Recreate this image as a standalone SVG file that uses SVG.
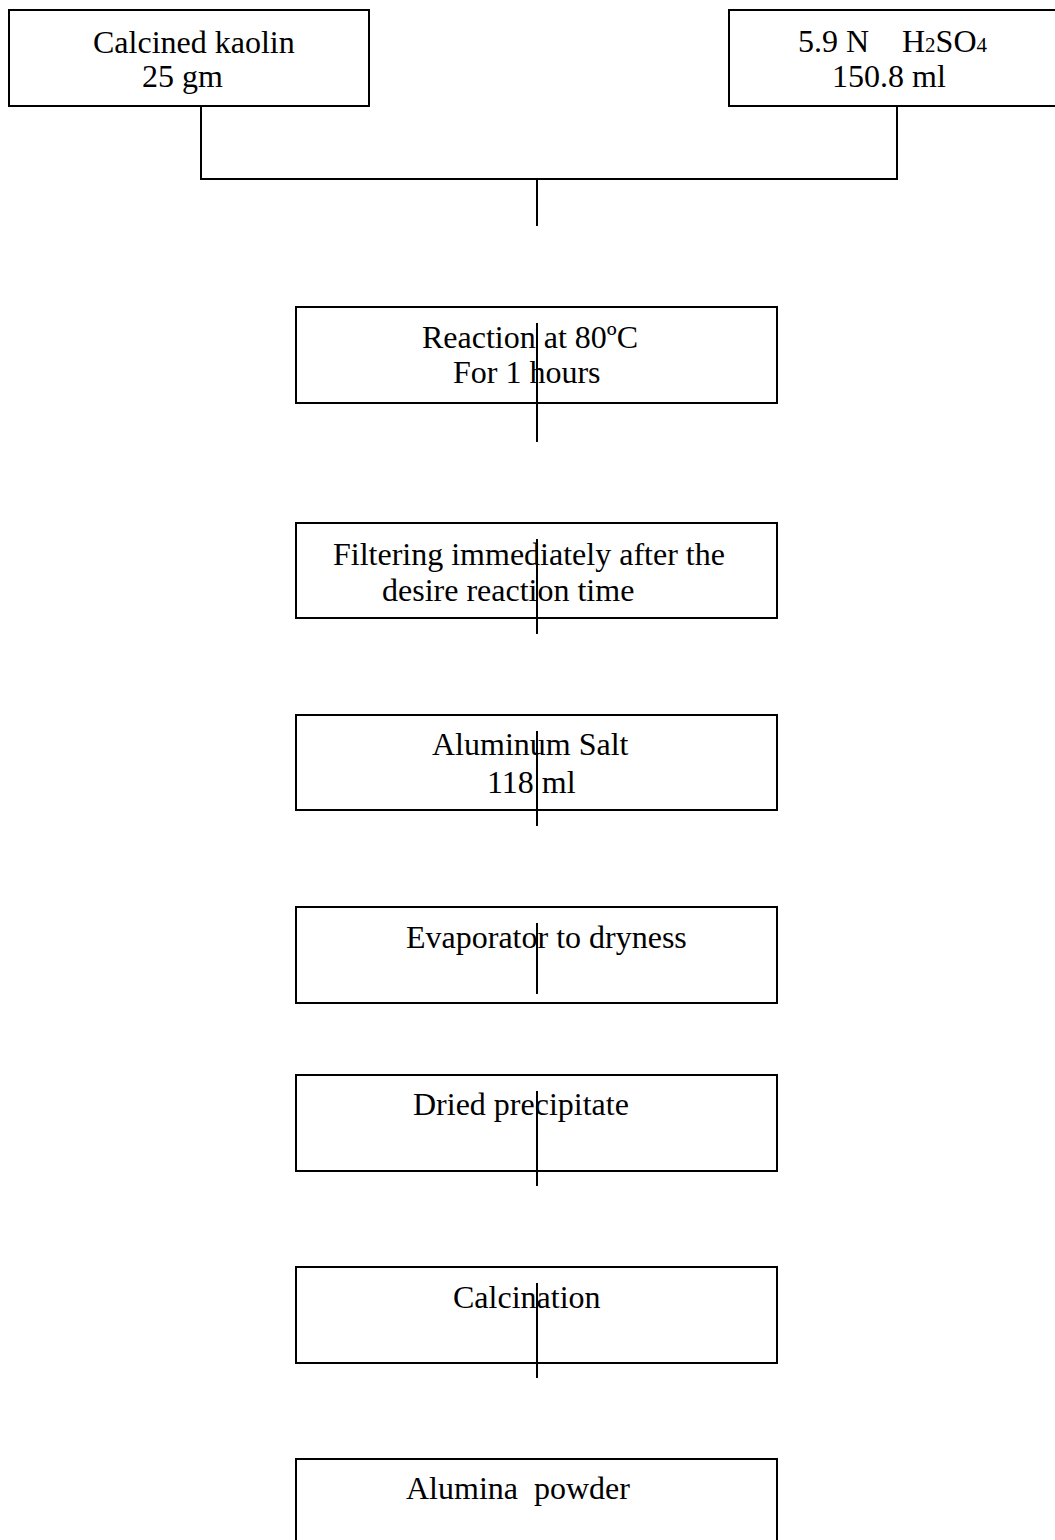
<svg xmlns="http://www.w3.org/2000/svg" width="1055" height="1540" viewBox="0 0 1055 1540">
<style>
.box{fill:#fff;stroke:#000;stroke-width:2}
line{stroke:#000;stroke-width:2}
text{font-family:"Liberation Serif","Times New Roman",serif;font-size:32px;fill:#000}
.sub{font-size:21px}
</style>
<rect width="1055" height="1540" fill="#fff"/>
<g id="connectors-top">
<line x1="201" y1="106" x2="201" y2="179"/>
<line x1="897" y1="106" x2="897" y2="179"/>
<line x1="200" y1="179" x2="898" y2="179"/>
<line x1="537" y1="179" x2="537" y2="226"/>
</g>
<g id="kaolin">
<rect class="box" x="9" y="10" width="360" height="96"/>
<text x="93" y="53">Calcined kaolin</text>
<text x="142" y="87">25 gm</text>
</g>
<g id="acid">
<rect class="box" x="729" y="10" width="340" height="96"/>
<text x="798" y="52">5.9 N</text>
<text x="902" y="52">H<tspan class="sub">2</tspan>SO<tspan class="sub">4</tspan></text>
<text x="832" y="87">150.8 ml</text>
</g>
<g id="reaction">
<rect class="box" x="296" y="307" width="481" height="96"/>
<text x="422" y="348">Reaction at 80ºC</text>
<text x="453" y="383">For 1 hours</text>
</g>
<g id="filtering">
<rect class="box" x="296" y="523" width="481" height="95"/>
<text x="333" y="565">Filtering immediately after the</text>
<text x="382" y="601">desire reaction time</text>
</g>
<g id="salt">
<rect class="box" x="296" y="715" width="481" height="95"/>
<text x="432" y="755">Aluminum Salt</text>
<text x="487" y="793">118 ml</text>
</g>
<g id="evaporator">
<rect class="box" x="296" y="907" width="481" height="96"/>
<text x="406" y="948">Evaporator to dryness</text>
</g>
<g id="dried">
<rect class="box" x="296" y="1075" width="481" height="96"/>
<text x="413" y="1115">Dried precipitate</text>
</g>
<g id="calcination">
<rect class="box" x="296" y="1267" width="481" height="96"/>
<text x="453" y="1308">Calcination</text>
</g>
<g id="alumina">
<rect class="box" x="296" y="1459" width="481" height="100"/>
<text x="406" y="1499" xml:space="preserve">Alumina  powder</text>
</g>
<g id="connectors">
<line x1="537" y1="323" x2="537" y2="442"/>
<line x1="537" y1="539" x2="537" y2="634"/>
<line x1="537" y1="731" x2="537" y2="826"/>
<line x1="537" y1="923" x2="537" y2="994"/>
<line x1="537" y1="1091" x2="537" y2="1186"/>
<line x1="537" y1="1283" x2="537" y2="1378"/>
</g>
</svg>
